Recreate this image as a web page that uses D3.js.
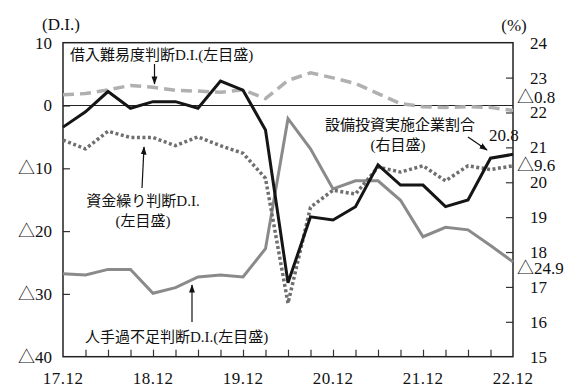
<!DOCTYPE html>
<html>
<head>
<meta charset="utf-8">
<script src="https://cdn.jsdelivr.net/npm/d3@7"></script>
<style>
  body { margin: 0; background: #fff; }
  text { font-family: "Liberation Serif", "Noto Sans CJK JP", serif; fill: #111; }
</style>
</head>
<body>
<div id="chart"></div>
<script>
// quarters 17.12 .. 22.12
const quarters = ["17.12","18.3","18.6","18.9","18.12","19.3","19.6","19.9","19.12","20.3","20.6","20.9",
                  "20.12","21.3","21.6","21.9","21.12","22.3","22.6","22.9","22.12"]
const tickLabels = ["17.12","18.12","19.12","20.12","21.12","22.12"]
// 設備投資実施企業割合 (右目盛, %)
const setsubi = [21.58, 22.02, 22.6, 22.12, 22.31, 22.31, 22.12, 22.9, 22.64, 21.5, 17.12, 19.01,
                 18.92, 19.3, 20.5, 19.92, 19.92, 19.3, 19.49, 20.69, 20.8]
// 借入難易度判断D.I. (左目盛)
const kariire = [1.7, 1.9, 2.5, 3.2, 2.9, 2.4, 2.3, 2.1, 2.5, 1.1, 4.0, 5.2,
                 4.4, 3.5, 1.9, 0.3, -0.2, -0.3, -0.2, -0.3, -0.8]
// 資金繰り判断D.I. (左目盛)
const shikin = [-5.5, -6.9, -4.1, -5.1, -5.1, -6.4, -5.0, -6.4, -7.6, -11.6, -31.5, -16.2,
                -13.5, -14.1, -9.8, -10.6, -9.6, -12.0, -9.6, -10.2, -9.6]
// 人手過不足判断D.I. (左目盛)
const hitode = [-26.8, -27.0, -26.1, -26.1, -29.9, -29.0, -27.3, -27.0, -27.3, -22.8, -2.1, -6.9,
                -13.3, -12.0, -12.0, -15.1, -20.9, -19.4, -19.8, -22.3, -24.9]
const leftTicks = [10, 0, -10, -20, -30, -40]
const rightTicks = [24, 23, 22, 21, 20, 19, 18, 17, 16, 15]

const width = 573, height = 390
const margin = {left: 63, right: 60, top: 42.7, bottom: 33.3}

const svg = d3.select("#chart").append("svg").attr("width", width).attr("height", height)

const x = d3.scaleLinear().domain([0, quarters.length - 1]).range([margin.left, width - margin.right])
const yL = d3.scaleLinear().domain([-40, 10]).range([height - margin.bottom, margin.top])
const yR = d3.scaleLinear().domain([15, 24]).range([height - margin.bottom, margin.top])

const fmt = v => v < 0 ? "△" + Math.abs(v) : String(v)

// arrow marker
svg.append("defs").append("marker")
  .attr("id", "arr").attr("viewBox", "0 0 10 10").attr("refX", 9).attr("refY", 5)
  .attr("markerWidth", 7).attr("markerHeight", 7).attr("orient", "auto-start-reverse")
  .append("path").attr("d", "M0,1.5 L10,5 L0,8.5 Z").attr("fill", "#111")

//// axes
const xAxis = g => g.attr("transform", `translate(0,${height - margin.bottom})`)
  .call(d3.axisTop(x).tickValues(d3.range(1, quarters.length - 1)).tickSize(7).tickFormat(""))
  .call(g => g.select(".domain").remove())
const yAxisL = g => g.attr("transform", `translate(${margin.left},0)`)
  .call(d3.axisRight(yL).tickValues(leftTicks.slice(1, -1)).tickSize(7).tickFormat(""))
  .call(g => g.select(".domain").remove())
const yAxisR = g => g.attr("transform", `translate(${width - margin.right},0)`)
  .call(d3.axisLeft(yR).tickValues(rightTicks.slice(1, -1)).tickSize(7).tickFormat(""))
  .call(g => g.select(".domain").remove())
svg.append("g").call(xAxis).selectAll("line").attr("stroke", "#333").attr("stroke-width", 1.2)
svg.append("g").call(yAxisL).selectAll("line").attr("stroke", "#333").attr("stroke-width", 1.2)
svg.append("g").call(yAxisR).selectAll("line").attr("stroke", "#333").attr("stroke-width", 1.2)

// frame + zero line
svg.append("rect")
  .attr("x", margin.left).attr("y", margin.top)
  .attr("width", width - margin.left - margin.right).attr("height", height - margin.top - margin.bottom)
  .attr("fill", "none").attr("stroke", "#222").attr("stroke-width", 1.5)
svg.append("line")
  .attr("x1", margin.left).attr("x2", width - margin.right)
  .attr("y1", yL(0)).attr("y2", yL(0)).attr("stroke", "#222").attr("stroke-width", 1)

// tick labels
svg.append("g").selectAll("text").data(leftTicks).join("text")
  .attr("x", 52).attr("y", d => yL(d)).attr("dy", "0.35em").attr("text-anchor", "end")
  .attr("font-size", 17).text(fmt)
svg.append("g").selectAll("text").data(rightTicks).join("text")
  .attr("x", 530).attr("y", d => yR(d)).attr("dy", "0.35em")
  .attr("font-size", 17).text(d => d)
svg.append("g").selectAll("text").data(tickLabels).join("text")
  .attr("x", d => x(quarters.indexOf(d))).attr("y", 378.5).attr("dy", "0.35em")
  .attr("text-anchor", "middle").attr("font-size", 17).attr("letter-spacing", 0.5).text(d => d)
svg.append("text").attr("x", 61).attr("y", 24).attr("dy", "0.35em").attr("text-anchor", "middle")
  .attr("font-size", 17).text("(D.I.)")
svg.append("text").attr("x", 514).attr("y", 25).attr("dy", "0.35em").attr("text-anchor", "middle")
  .attr("font-size", 17).text("(%)")

//// lines
function drawLine(values, scale, color, w, dash) {
  const line = d3.line().x((d, i) => x(i)).y(d => scale(d))
  svg.append("path")
    .datum(values)
    .attr("fill", "none")
    .attr("stroke", color)
    .attr("stroke-width", w)
    .attr("stroke-dasharray", dash)
    .attr("stroke-linejoin", "miter")
    .attr("d", line)
}
drawLine(hitode, yL, "#8a8a8a", 3, null)
drawLine(kariire, yL, "#b0b0b0", 3.5, "11,6")
drawLine(shikin, yL, "#6f6f6f", 3.5, "3,2.5")
drawLine(setsubi, yR, "#151515", 3, null)

//// end labels
const last = quarters.length - 1
svg.append("text").attr("x", 517).attr("y", yL(kariire[last]) - 13).attr("dy", "0.35em")
  .attr("font-size", 17).text(fmt(kariire[last]))
svg.append("text").attr("x", 517).attr("y", yL(shikin[last]) - 1).attr("dy", "0.35em")
  .attr("font-size", 17).text(fmt(shikin[last]))
svg.append("text").attr("x", 517).attr("y", yL(hitode[last]) + 6).attr("dy", "0.35em")
  .attr("font-size", 17).text(fmt(hitode[last]))
svg.append("text").attr("x", 489).attr("y", 135).attr("dy", "0.35em")
  .attr("font-size", 17).text(setsubi[last])

//// annotations
function label(txt, xx, yy, anchor) {
  svg.append("text").attr("x", xx).attr("y", yy).attr("dy", "0.35em")
    .attr("text-anchor", anchor).attr("font-size", 15).text(txt)
}
function arrow(x1, y1, x2, y2) {
  svg.append("line").attr("x1", x1).attr("y1", y1).attr("x2", x2).attr("y2", y2)
    .attr("stroke", "#111").attr("stroke-width", 1.2).attr("marker-end", "url(#arr)")
}
label("借入難易度判断D.I.(左目盛)", 70, 55, "start")
arrow(154.5, 64, 154.5, 84)
label("資金繰り判断D.I.", 143, 201, "middle")
label("(左目盛)", 143, 221, "middle")
arrow(142, 188, 144, 147)
label("人手過不足判断D.I.(左目盛)", 85, 337, "start")
arrow(192, 322, 192, 285)
label("設備投資実施企業割合", 400, 125, "middle")
label("(右目盛)", 398, 145, "middle")
arrow(468, 137, 487, 150)
</script>
</body>
</html>
